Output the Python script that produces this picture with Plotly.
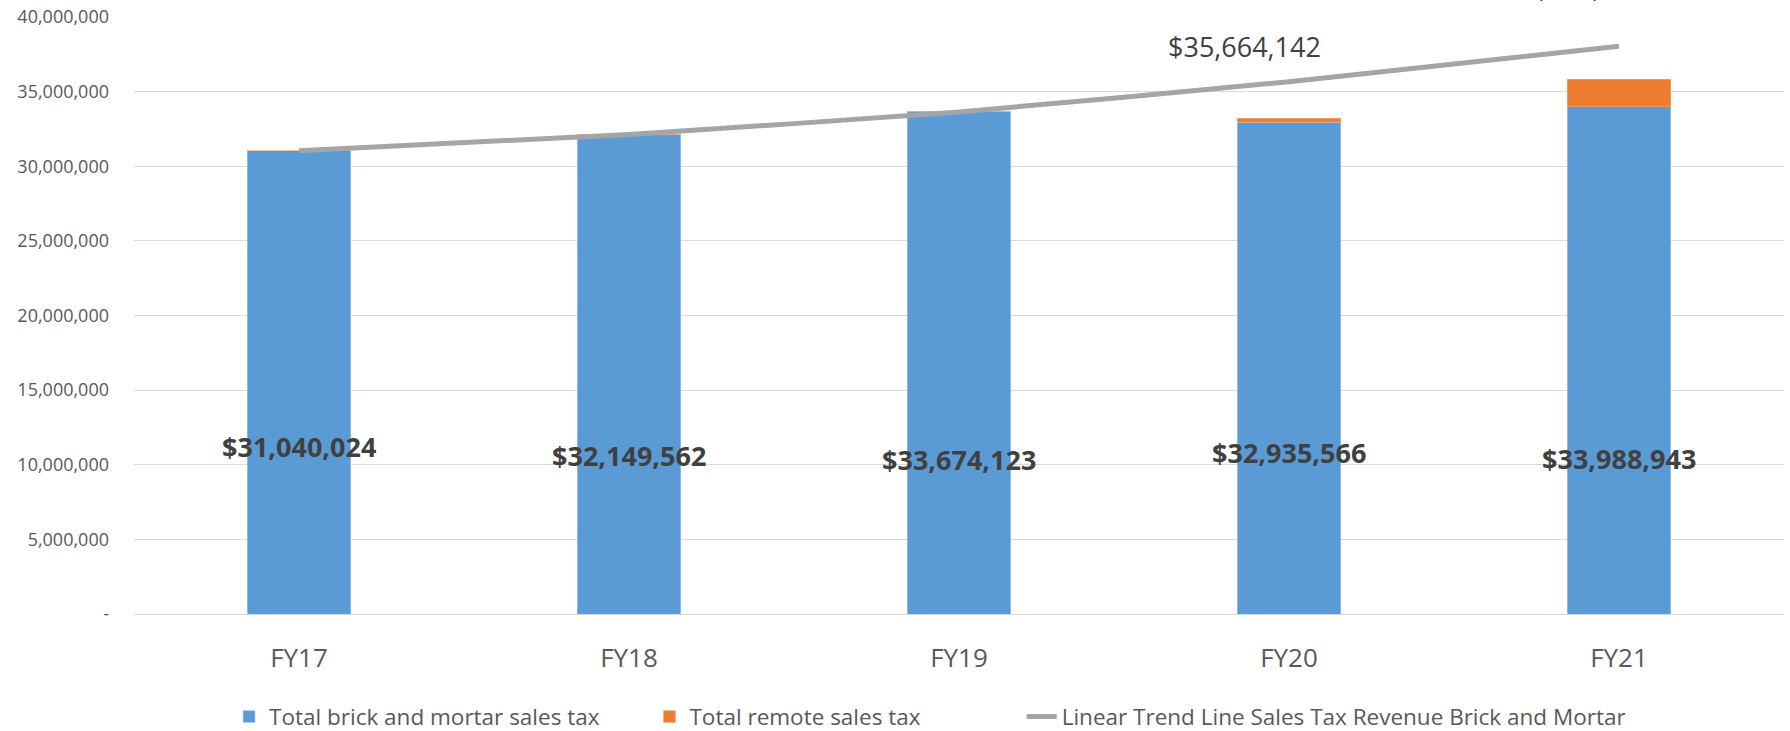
import plotly.graph_objects as go

# ---- data ----
categories = ["FY17", "FY18", "FY19", "FY20", "FY21"]
brick_mortar = [31040024, 32149562, 33674123, 32935566, 33988943]
remote = [0, 0, 0, 270000, 1830000]
trend = [31040000, 32130000, 33640000, 35664142, 38040000]

y_tick_vals = [0, 5e6, 10e6, 15e6, 20e6, 25e6, 30e6, 35e6, 40e6]
y_tick_text = ["-", "5,000,000", "10,000,000", "15,000,000", "20,000,000",
               "25,000,000", "30,000,000", "35,000,000", "40,000,000"]

# label vertical placement (data units) for bar value labels
bar_label_y = [11.19e6, 10.65e6, 10.38e6, 10.85e6, 10.45e6]

BLUE = "#5B9BD5"
ORANGE = "#ED7D31"
GREY = "#A5A5A5"
FONT = "Open Sans"

fig = go.Figure()
fig.add_trace(go.Bar(
    x=categories, y=brick_mortar, name="Total brick and mortar sales tax",
    marker=dict(color=BLUE, line=dict(color="#BDD7EE", width=0.5)),
    legend="legend", hoverinfo="skip"))
fig.add_trace(go.Bar(
    x=categories, y=remote, name="Total remote sales tax",
    marker=dict(color=ORANGE, line=dict(color="#F4B183", width=0.5)),
    legend="legend2", hoverinfo="skip"))
fig.add_trace(go.Scatter(
    x=categories, y=trend, mode="lines",
    name="Linear Trend Line Sales Tax Revenue Brick and Mortar",
    line=dict(color=GREY, width=5, shape="spline", smoothing=0.5),
    legend="legend3", hoverinfo="skip", cliponaxis=False))

annotations = []
for c, v, ly in zip(categories, brick_mortar, bar_label_y):
    annotations.append(dict(
        x=c, y=ly, xref="x", yref="y", text=f"${v:,.0f}", showarrow=False,
        font=dict(family=FONT, size=27, color="#404040", weight="bold"),
        xanchor="center", yanchor="middle"))

# trend value labels (FY20 and FY21)
annotations.append(dict(
    x=categories[3], y=trend[3], xref="x", yref="y", text=f"${trend[3]:,.0f}",
    showarrow=False, xshift=-45, yshift=35,
    font=dict(family=FONT, size=27, color="#404040"),
    xanchor="center", yanchor="middle"))
annotations.append(dict(
    x=categories[4], y=trend[4], xref="x", yref="y", text=f"${trend[4]:,.0f}",
    showarrow=False, xshift=-50, yshift=60,
    font=dict(family=FONT, size=27, color="#404040"),
    xanchor="center", yanchor="middle"))

legend_common = dict(orientation="h", yref="paper", y=-0.1725, yanchor="middle",
                     xanchor="left", font=dict(family=FONT, size=22.5, color="#595959"),
                     bgcolor="rgba(0,0,0,0)", borderwidth=0)

fig.update_layout(
    width=1790, height=731,
    margin=dict(l=134, r=6, t=17, b=117, autoexpand=False),
    paper_bgcolor="white", plot_bgcolor="white",
    barmode="stack", bargap=0.685,
    showlegend=True,
    legend=dict(x=0.0576, **legend_common),
    legend2=dict(x=0.3124, **legend_common),
    legend3=dict(x=0.538, **legend_common),
    annotations=annotations,
    font=dict(family=FONT, color="#595959"),
    xaxis=dict(
        type="category", showgrid=False, showline=True, linecolor="#D9D9D9",
        linewidth=1, ticks="", tickfont=dict(family=FONT, size=26, color="#595959"),
        ticklabelstandoff=21, automargin=False),
    yaxis=dict(
        range=[0, 40e6], tickvals=y_tick_vals, ticktext=y_tick_text,
        showgrid=True, gridcolor="#D9D9D9", gridwidth=1, zeroline=False,
        showline=False, ticks="", tickfont=dict(family=FONT, size=18, color="#595959"),
        ticklabelstandoff=24, automargin=False),
)

fig.write_html("out.html", config={"displayModeBar": False},
               post_script="document.body.style.margin='0';")
